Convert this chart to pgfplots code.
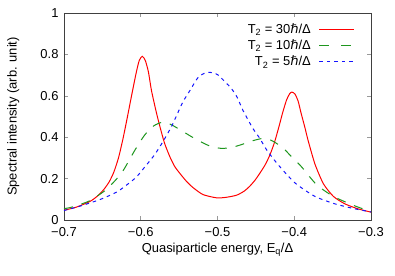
\documentclass[border=0pt]{standalone}
\usepackage{pgfplots}
\pgfplotsset{compat=1.18}
\usepackage{fontspec}
\setmainfont{Liberation Sans}
\newfontfamily\dejavu{DejaVu Sans}
\definecolor{cred}{RGB}{255,0,0}
\definecolor{cgreen}{RGB}{30,150,30}
\definecolor{cblue}{RGB}{20,20,255}
\begin{document}
\fontsize{13}{15}\selectfont
\begin{tikzpicture}
\useasboundingbox (-64bp,-56bp) rectangle (331bp,220bp);
\begin{axis}[
  scale only axis,
  width=307bp, height=207bp,
  at={(0,0)}, anchor=south west,
  xmin=-0.7, xmax=-0.3, ymin=0, ymax=1,
  xtick={-0.7,-0.6,-0.5,-0.4,-0.3},
  xticklabels={−0.7,−0.6,−0.5,−0.4,−0.3},
  ytick={0,0.2,0.4,0.6,0.8,1},
  yticklabels={0,0.2,0.4,0.6,0.8,1},
  tick align=inside,
  major tick length=4bp,
  tick style={black!40, line width=0.6pt},
  axis line style={black!75, line width=0.7pt},
  ticklabel style={font=\fontsize{13}{15}\selectfont},
  xticklabel style={yshift=-3bp},
  yticklabel style={xshift=-1bp},
  label style={font=\fontsize{13}{15}\selectfont},
  xlabel={Quasiparticle energy, E\textsubscript{q}/Δ},
  ylabel={Spectral intensity (arb. unit)},
  xlabel style={at={(axis description cs:0.5,-0.145)}, anchor=center},
  ylabel style={at={(axis description cs:-0.165,0.5)}, anchor=center},
  legend plot pos=right,
  legend cell align=right,
  legend style={draw=none, fill=none, at={(0.948,0.96)}, anchor=north east,
    inner sep=0pt, row sep=0.5bp, column sep=6bp,
    font=\fontsize{13}{15}\selectfont},
]
\addplot[cred, line width=1pt, smooth, tension=0.4,
  legend image code/.code={\color{cred}\draw[cred, line width=1pt] (0bp,0bp) -- (35bp,0bp);}] coordinates {
(-0.700,0.047) (-0.684,0.062) (-0.666,0.090) (-0.656,0.117) (-0.648,0.148)
(-0.641,0.185) (-0.635,0.232) (-0.629,0.300) (-0.623,0.395) (-0.617,0.505)
(-0.612,0.600) (-0.606,0.710) (-0.602,0.770) (-0.598,0.791) (-0.594,0.770)
(-0.590,0.715) (-0.586,0.625) (-0.580,0.525) (-0.575,0.451) (-0.569,0.371)
(-0.562,0.305) (-0.556,0.260) (-0.549,0.225) (-0.540,0.185) (-0.532,0.157)
(-0.519,0.123) (-0.501,0.107) (-0.488,0.110) (-0.475,0.120) (-0.465,0.140)
(-0.458,0.163) (-0.451,0.193) (-0.445,0.225) (-0.438,0.266) (-0.432,0.312)
(-0.426,0.372) (-0.420,0.450) (-0.415,0.520) (-0.410,0.580) (-0.406,0.610)
(-0.403,0.618) (-0.399,0.608) (-0.395,0.575) (-0.391,0.515) (-0.386,0.445)
(-0.382,0.385) (-0.373,0.270) (-0.362,0.175) (-0.349,0.114) (-0.334,0.078)
(-0.317,0.054) (-0.300,0.038)};
\addlegendentry{T\textsubscript{2} = 30{\dejavu ℏ}/Δ}
\addplot[cgreen, line width=1pt, smooth, tension=0.4, dash pattern=on 9bp off 9bp,
  legend image code/.code={\color{cgreen}\draw[cgreen, line width=1pt, dash pattern=on 10bp off 12bp] (0bp,0bp) -- (35bp,0bp);}] coordinates {
(-0.700,0.055) (-0.692,0.060) (-0.680,0.074) (-0.666,0.094) (-0.645,0.147)
(-0.625,0.227) (-0.608,0.335) (-0.595,0.410) (-0.583,0.455) (-0.571,0.473)
(-0.560,0.460) (-0.547,0.432) (-0.535,0.405) (-0.523,0.380) (-0.509,0.356)
(-0.495,0.346) (-0.482,0.350) (-0.469,0.364) (-0.455,0.382) (-0.441,0.394)
(-0.430,0.385) (-0.419,0.360) (-0.412,0.339) (-0.406,0.315) (-0.391,0.259)
(-0.371,0.171) (-0.349,0.114) (-0.323,0.071) (-0.300,0.040)};
\addlegendentry{T\textsubscript{2} = 10{\dejavu ℏ}/Δ}
\addplot[cblue, line width=1pt, smooth, tension=0.4, dash pattern=on 3.5bp off 4bp,
  legend image code/.code={\color{cblue}\draw[cblue, line width=1pt, dash pattern=on 3.5bp off 4bp] (0bp,0bp) -- (35bp,0bp);}] coordinates {
(-0.700,0.046) (-0.680,0.066) (-0.653,0.099) (-0.630,0.138) (-0.607,0.203)
(-0.595,0.255) (-0.582,0.315) (-0.571,0.379) (-0.560,0.451) (-0.553,0.507)
(-0.545,0.571) (-0.536,0.625) (-0.525,0.690) (-0.514,0.713) (-0.505,0.710)
(-0.499,0.700) (-0.489,0.663) (-0.482,0.636) (-0.474,0.590) (-0.467,0.531)
(-0.454,0.443) (-0.445,0.395) (-0.436,0.339) (-0.421,0.267) (-0.399,0.179)
(-0.373,0.114) (-0.347,0.078) (-0.321,0.054) (-0.300,0.039)};
\addlegendentry{T\textsubscript{2} = 5{\dejavu ℏ}/Δ}
\end{axis}
\end{tikzpicture}
\end{document}
